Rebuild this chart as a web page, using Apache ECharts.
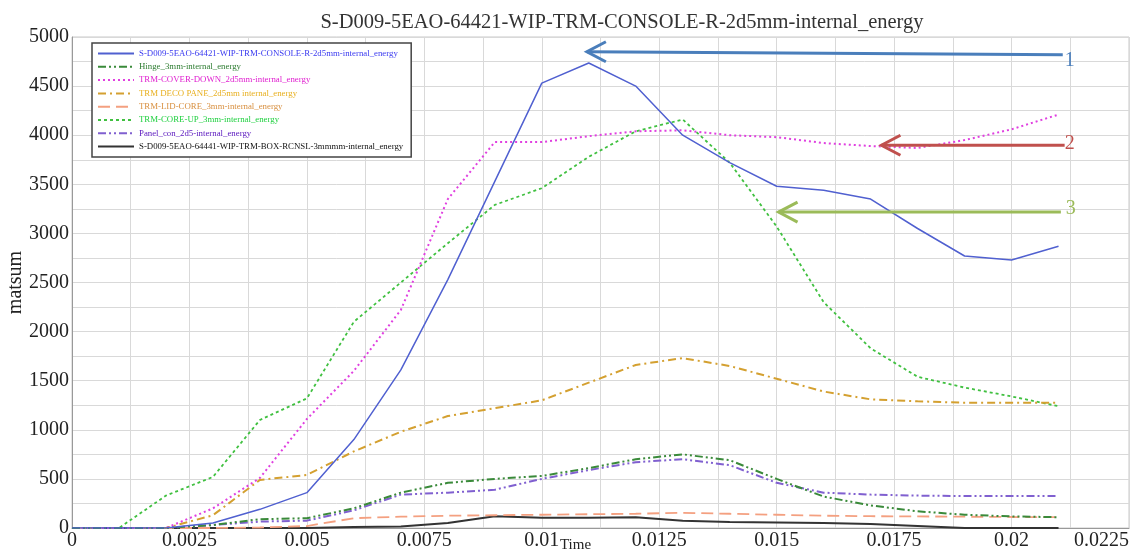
<!DOCTYPE html>
<html style="height: 100%">
<head>
<meta charset="utf-8">
<title>internal energy</title>
<script src="https://cdn.jsdelivr.net/npm/echarts@6/dist/echarts.min.js"></script>
</head>
<body style="height: 100%; margin: 0; background: #fff">
<div id="container" style="width: 1144px; height: 550px"></div>
<script type="text/javascript">
// time steps (s)
var time = [0, 0.001, 0.002, 0.003, 0.004, 0.005, 0.006, 0.007, 0.008, 0.009, 0.010,
            0.011, 0.012, 0.013, 0.014, 0.015, 0.016, 0.017, 0.018, 0.019, 0.020, 0.021];

var names = [
    'S-D009-5EAO-64421-WIP-TRM-CONSOLE-R-2d5mm-internal_energy',
    'Hinge_3mm-internal_energy',
    'TRM-COVER-DOWN_2d5mm-internal_energy',
    'TRM DECO PANE_2d5mm internal_energy',
    'TRM-LID-CORE_3mm-internal_energy',
    'TRM-CORE-UP_3mm-internal_energy',
    'Panel_con_2d5-internal_energy',
    'S-D009-5EAO-64441-WIP-TRM-BOX-RCNSL-3mmmm-internal_energy'
];

var consoleR  = [0, 0, 0, 50, 190, 360, 900, 1610, 2530, 3530, 4530, 4735, 4500, 4000, 3720, 3480, 3440, 3350, 3050, 2770, 2730, 2870];
var hinge     = [0, 0, 0, 30, 90, 100, 200, 360, 460, 500, 530, 610, 700, 750, 690, 500, 320, 230, 170, 135, 118, 110];
var coverDown = [0, 0, 0, 200, 510, 1110, 1600, 2220, 3350, 3930, 3930, 3990, 4040, 4050, 4000, 3980, 3920, 3890, 3870, 3950, 4060, 4210];
var decoPane  = [0, 0, 0, 130, 490, 540, 780, 980, 1140, 1220, 1300, 1480, 1660, 1730, 1650, 1520, 1390, 1310, 1290, 1275, 1275, 1275];
var lidCore   = [0, 0, 0, 0, 5, 20, 100, 115, 125, 130, 135, 140, 145, 155, 145, 135, 125, 120, 118, 115, 112, 110];
var coreUp    = [0, 0, 330, 520, 1100, 1320, 2100, 2500, 2900, 3290, 3460, 3780, 4040, 4160, 3720, 3070, 2300, 1830, 1540, 1430, 1340, 1240];
var panelCon  = [0, 0, 0, 30, 65, 75, 180, 340, 360, 390, 500, 590, 670, 700, 640, 460, 360, 340, 330, 325, 325, 325];
var boxRcnsl  = [0, 0, 0, 0, 0, 0, 10, 15, 50, 120, 105, 105, 110, 75, 60, 55, 50, 40, 20, 0, 0, 0];

// annotation arrows: [tail, tip, label position] in data units
var arrows = [
    { label: '1', color: '#4a7ebb', tail: [0.02109, 4819], tip: [0.01096, 4850], text: [0.02124, 4755] },
    { label: '2', color: '#c0504d', tail: [0.02113, 3898], tip: [0.01723, 3898], text: [0.02124, 3918] },
    { label: '3', color: '#9bbb59', tail: [0.02105, 3217], tip: [0.01504, 3217], text: [0.02126, 3255] }
];

var lineColors = ['#5060d0', '#3a8a3a', '#e040e0', '#d4a030', '#f4a080', '#40c040', '#8060d0', '#333333'];
var textColors = ['#3a3af0', '#2e7d32', '#e020d0', '#e8b020', '#d89040', '#20d040', '#6020c0', '#111111'];
var dashes = ['solid', [8, 3, 2, 3, 2, 3], [2, 3], [8, 4, 2, 4], [12, 6], [3, 3], [8, 3, 2, 3, 2, 3], 'solid'];
var widths = [1.5, 2, 2, 2, 1.8, 1.8, 2, 2];
var values = [consoleR, hinge, coverDown, decoPane, lidCore, coreUp, panelCon, boxRcnsl];

var serif = '"Liberation Serif", "DejaVu Serif", serif';

var series = [];
for (var i = 0; i < names.length; i++) {
    var pts = [];
    for (var j = 0; j < time.length; j++) {
        pts.push([time[j], values[i][j]]);
    }
    series.push({
        name: names[i],
        type: 'line',
        symbol: 'none',
        data: pts,
        z: 10 - i,
        lineStyle: { color: lineColors[i], width: widths[i], type: dashes[i] },
        itemStyle: { color: lineColors[i] }
    });
}

var legendData = [];
for (var i = 0; i < names.length; i++) {
    legendData.push({ name: names[i], textStyle: { color: textColors[i] } });
}

var myChart = echarts.init(document.getElementById('container'));
var option = {
    animation: false,
    title: {
        text: 'S-D009-5EAO-64421-WIP-TRM-CONSOLE-R-2d5mm-internal_energy',
        left: 617, top: 7, textAlign: 'center',
        textStyle: { fontFamily: serif, fontSize: 20.5, fontWeight: 'normal', color: '#333' }
    },
    legend: {
        orient: 'vertical',
        left: 92, top: 43,
        padding: [6, 8, 6, 5],
        itemWidth: 36, itemHeight: 10, itemGap: 4.3,
        itemStyle: { opacity: 0 },
        backgroundColor: '#fff',
        borderColor: '#444', borderWidth: 1.5,
        textStyle: { fontFamily: serif, fontSize: 8.8 },
        data: legendData
    },
    grid: {
        left: 72, right: 15, top: 37, bottom: 22,
        outerBoundsMode: 'none',
        show: true, borderColor: '#c8c8c8', borderWidth: 1
    },
    xAxis: {
        type: 'value', min: 0, max: 0.0225, interval: 0.0025,
        name: 'Time', nameLocation: 'middle', nameGap: 10, nameMoveOverlap: false,
        nameTextStyle: { fontFamily: serif, fontSize: 15, color: '#222', padding: [0, 50, 0, 0] },
        axisLine: { lineStyle: { color: '#999' } },
        axisTick: { show: false },
        axisLabel: { fontFamily: serif, fontSize: 20, color: '#222', margin: 3, alignMaxLabel: 'right' },
        splitLine: { lineStyle: { color: '#d9d9d9' } },
        minorTick: { show: false, splitNumber: 2 },
        minorSplitLine: { show: true, lineStyle: { color: '#d9d9d9' } }
    },
    yAxis: {
        type: 'value', min: 0, max: 5000, interval: 500,
        name: 'matsum', nameLocation: 'middle', nameGap: 46, nameMoveOverlap: false,
        nameTextStyle: { fontFamily: serif, fontSize: 20, color: '#222' },
        axisLine: { show: true, lineStyle: { color: '#999' } },
        axisTick: { show: false },
        axisLabel: {
            fontFamily: serif, fontSize: 20, color: '#222', margin: 3,
            formatter: function (v) { return String(v); }
        },
        splitLine: { lineStyle: { color: '#d9d9d9' } },
        minorTick: { show: false, splitNumber: 2 },
        minorSplitLine: { show: true, lineStyle: { color: '#d9d9d9' } }
    },
    series: series
};
myChart.setOption(option);

// arrows drawn after layout, positioned through the chart's own scales
var graphics = [];
arrows.forEach(function (a) {
    var tail = myChart.convertToPixel({ gridIndex: 0 }, a.tail);
    var tip = myChart.convertToPixel({ gridIndex: 0 }, a.tip);
    var txt = myChart.convertToPixel({ gridIndex: 0 }, a.text);
    graphics.push({
        type: 'polyline', z: 100,
        shape: { points: [tail, tip] },
        style: { stroke: a.color, lineWidth: 3, fill: null }
    });
    graphics.push({
        type: 'polyline', z: 100,
        shape: { points: [[tip[0] + 19, tip[1] - 10], tip, [tip[0] + 19, tip[1] + 10]] },
        style: { stroke: a.color, lineWidth: 3, fill: null }
    });
    graphics.push({
        type: 'text', z: 100,
        x: txt[0], y: txt[1],
        style: { text: a.label, fill: a.color, font: '20px ' + serif, align: 'center', verticalAlign: 'middle' }
    });
});
myChart.setOption({ graphic: graphics });
</script>
</body>
</html>
